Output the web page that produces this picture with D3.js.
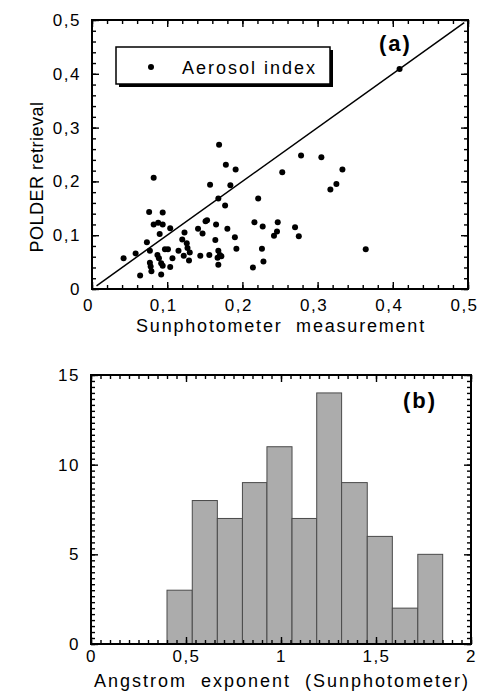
<!DOCTYPE html>
<html>
<head>
<meta charset="utf-8">
<script src="https://cdn.jsdelivr.net/npm/d3@7"></script>
<style>
  body { margin: 0; background: #fff; }
  text { font-family: "Liberation Sans", Arial, Helvetica, sans-serif; fill: #000; }
</style>
</head>
<body>
<script>
// panel (a): sunphotometer vs POLDER aerosol index
const sunX = [0.169, 0.178, 0.191, 0.082, 0.157, 0.184, 0.168, 0.177, 0.221, 0.076,
              0.094, 0.082, 0.088, 0.094, 0.104, 0.090, 0.123, 0.141, 0.147, 0.151,
              0.153, 0.165, 0.180, 0.190, 0.192, 0.216, 0.227, 0.246, 0.242, 0.247,
              0.073, 0.120, 0.126, 0.127, 0.130, 0.164, 0.168, 0.170, 0.172, 0.077,
              0.097, 0.101, 0.115, 0.042, 0.058, 0.087, 0.089, 0.107, 0.122, 0.129,
              0.144, 0.156, 0.167, 0.168, 0.077, 0.078, 0.092, 0.094, 0.104, 0.079,
              0.092, 0.064, 0.214, 0.228, 0.226, 0.278, 0.305, 0.253, 0.333, 0.325,
              0.317, 0.270, 0.275, 0.364, 0.409];
const polderY = [0.268, 0.231, 0.222, 0.207, 0.194, 0.193, 0.168, 0.155, 0.168, 0.143,
                 0.142, 0.120, 0.123, 0.120, 0.113, 0.102, 0.105, 0.112, 0.103, 0.126,
                 0.128, 0.120, 0.112, 0.096, 0.075, 0.124, 0.116, 0.107, 0.099, 0.124,
                 0.087, 0.092, 0.085, 0.076, 0.068, 0.091, 0.071, 0.063, 0.061, 0.071,
                 0.074, 0.074, 0.071, 0.057, 0.066, 0.063, 0.057, 0.057, 0.062, 0.053,
                 0.062, 0.063, 0.058, 0.045, 0.049, 0.042, 0.048, 0.043, 0.041, 0.033,
                 0.027, 0.025, 0.040, 0.051, 0.075, 0.248, 0.245, 0.217, 0.222, 0.195,
                 0.185, 0.115, 0.098, 0.074, 0.409];
const oneToOne = [0.006, 0.495];
const scatterTicks = [0, 0.1, 0.2, 0.3, 0.4, 0.5];

// panel (b): histogram of Angstrom exponent
const binEdges = [0.40, 0.533, 0.665, 0.797, 0.926, 1.058, 1.188, 1.319, 1.454, 1.586, 1.72, 1.851];
const binCounts = [3, 8, 7, 9, 11, 7, 14, 9, 6, 2, 5];
const histXTicks = [0, 0.5, 1, 1.5, 2];
const histYTicks = [0, 5, 10, 15];

const width = 479;
const height = 697;

const svg = d3.select("body").append("svg")
  .attr("width", width)
  .attr("height", height)
  .attr("viewBox", [0, 0, width, height]);

const fmt = d => d === 0 ? "0" : String(d).replace(".", ",");

// draws a frame with inward ticks on all four sides
function frame(g, x, y, opts) {
  const [x0, x1] = x.range();
  const [y0, y1] = y.range();

  // minor ticks
  g.append("g").attr("transform", `translate(0,${y0})`)
    .call(d3.axisBottom(x).tickValues(opts.minorX).tickSize(-4).tickFormat(""));
  g.append("g").attr("transform", `translate(0,${y1})`)
    .call(d3.axisTop(x).tickValues(opts.minorX).tickSize(-4).tickFormat(""));
  g.append("g").attr("transform", `translate(${x0},0)`)
    .call(d3.axisLeft(y).tickValues(opts.minorY).tickSize(-4).tickFormat(""));
  g.append("g").attr("transform", `translate(${x1},0)`)
    .call(d3.axisRight(y).tickValues(opts.minorY).tickSize(-4).tickFormat(""));

  // major ticks + labels
  g.append("g").attr("class", "lab").attr("transform", `translate(0,${y0})`)
    .call(d3.axisBottom(x).tickValues(opts.labelsX).tickSize(-7).tickPadding(opts.padX).tickFormat(fmt))
    .call(a => a.selectAll("text").attr("dx", opts.shift));
  g.append("g").attr("transform", `translate(0,${y1})`)
    .call(d3.axisTop(x).tickValues(opts.labelsX).tickSize(-7).tickFormat(""));
  g.append("g").attr("class", "lab").attr("transform", `translate(${x0},0)`)
    .call(d3.axisLeft(y).tickValues(opts.labelsY).tickSize(-7).tickPadding(opts.padY).tickFormat(fmt));
  g.append("g").attr("transform", `translate(${x1},0)`)
    .call(d3.axisRight(y).tickValues(opts.labelsY).tickSize(-7).tickFormat(""));

  g.selectAll(".domain").remove();
  g.selectAll(".tick line").attr("stroke", "#000").attr("stroke-width", 1.4);
  g.selectAll(".lab text")
    .style("font-family", '"Liberation Sans", Arial, sans-serif')
    .attr("font-size", 17)
    .attr("letter-spacing", 1.5)
    .attr("fill", "#000");

  g.append("rect")
    .attr("x", x0).attr("y", y1)
    .attr("width", x1 - x0).attr("height", y0 - y1)
    .attr("fill", "none").attr("stroke", "#000").attr("stroke-width", 2);
}

// ---- panel (a)
const xA = d3.scaleLinear([0, 0.5], [92, 468]);
const yA = d3.scaleLinear([0, 0.5], [289, 20]);
const gA = svg.append("g");

gA.append("line")
  .attr("x1", xA(oneToOne[0])).attr("y1", yA(oneToOne[0]))
  .attr("x2", xA(oneToOne[1])).attr("y2", yA(oneToOne[1]))
  .attr("stroke", "#000").attr("stroke-width", 1.5);

gA.append("g").selectAll("circle")
  .data(sunX)
  .join("circle")
  .attr("cx", d => xA(d))
  .attr("cy", (d, i) => yA(polderY[i]))
  .attr("r", 3)
  .attr("fill", "#000");

frame(gA, xA, yA, {
  minorX: d3.range(0, 0.5001, 0.02), minorY: d3.range(0, 0.5001, 0.02),
  labelsX: scatterTicks, labelsY: scatterTicks, padX: 10, padY: 11, shift: -4
});

// legend with drop shadow
gA.append("rect").attr("x", 119).attr("y", 50).attr("width", 214).attr("height", 37).attr("fill", "#000");
gA.append("rect").attr("x", 116).attr("y", 47).attr("width", 214).attr("height", 37)
  .attr("fill", "#fff").attr("stroke", "#000").attr("stroke-width", 1.5);
gA.append("circle").attr("cx", 151).attr("cy", 67).attr("r", 3).attr("fill", "#000");
gA.append("text").attr("x", 182).attr("y", 74)
  .attr("font-size", 18).attr("letter-spacing", 2).text("Aerosol index");

gA.append("text").attr("x", 379).attr("y", 51)
  .attr("font-size", 22).attr("font-weight", "bold").attr("letter-spacing", 2).text("(a)");

svg.append("text")
  .attr("x", 281).attr("y", 332)
  .attr("text-anchor", "middle")
  .attr("font-size", 18).attr("letter-spacing", 1.8)
  .style("white-space", "pre")
  .text("Sunphotometer  measurement");

svg.append("text")
  .attr("transform", "translate(43,177) rotate(-90)")
  .attr("text-anchor", "middle")
  .attr("font-size", 18).attr("letter-spacing", 0.5)
  .text("POLDER retrieval");

// ---- panel (b)
const xB = d3.scaleLinear([0, 2], [91, 471]);
const yB = d3.scaleLinear([0, 15], [644, 375]);
const gB = svg.append("g");

gB.append("g").selectAll("rect")
  .data(binCounts)
  .join("rect")
  .attr("x", (d, i) => xB(binEdges[i]))
  .attr("y", d => yB(d))
  .attr("width", (d, i) => xB(binEdges[i + 1]) - xB(binEdges[i]))
  .attr("height", d => yB(0) - yB(d))
  .attr("fill", "#acacac")
  .attr("stroke", "#4a4a4a")
  .attr("stroke-width", 1);

frame(gB, xB, yB, {
  minorX: d3.range(0, 2.0001, 0.05), minorY: d3.range(0, 15.001, 1 / 3),
  labelsX: histXTicks, labelsY: histYTicks, padX: 6, padY: 11, shift: 0
});

gB.append("text").attr("x", 403).attr("y", 408)
  .attr("font-size", 22).attr("font-weight", "bold").attr("letter-spacing", 2).text("(b)");

svg.append("text")
  .attr("x", 282).attr("y", 687)
  .attr("text-anchor", "middle")
  .attr("font-size", 18).attr("letter-spacing", 2)
  .style("white-space", "pre")
  .text("Angstrom  exponent  (Sunphotometer)");
</script>
</body>
</html>
